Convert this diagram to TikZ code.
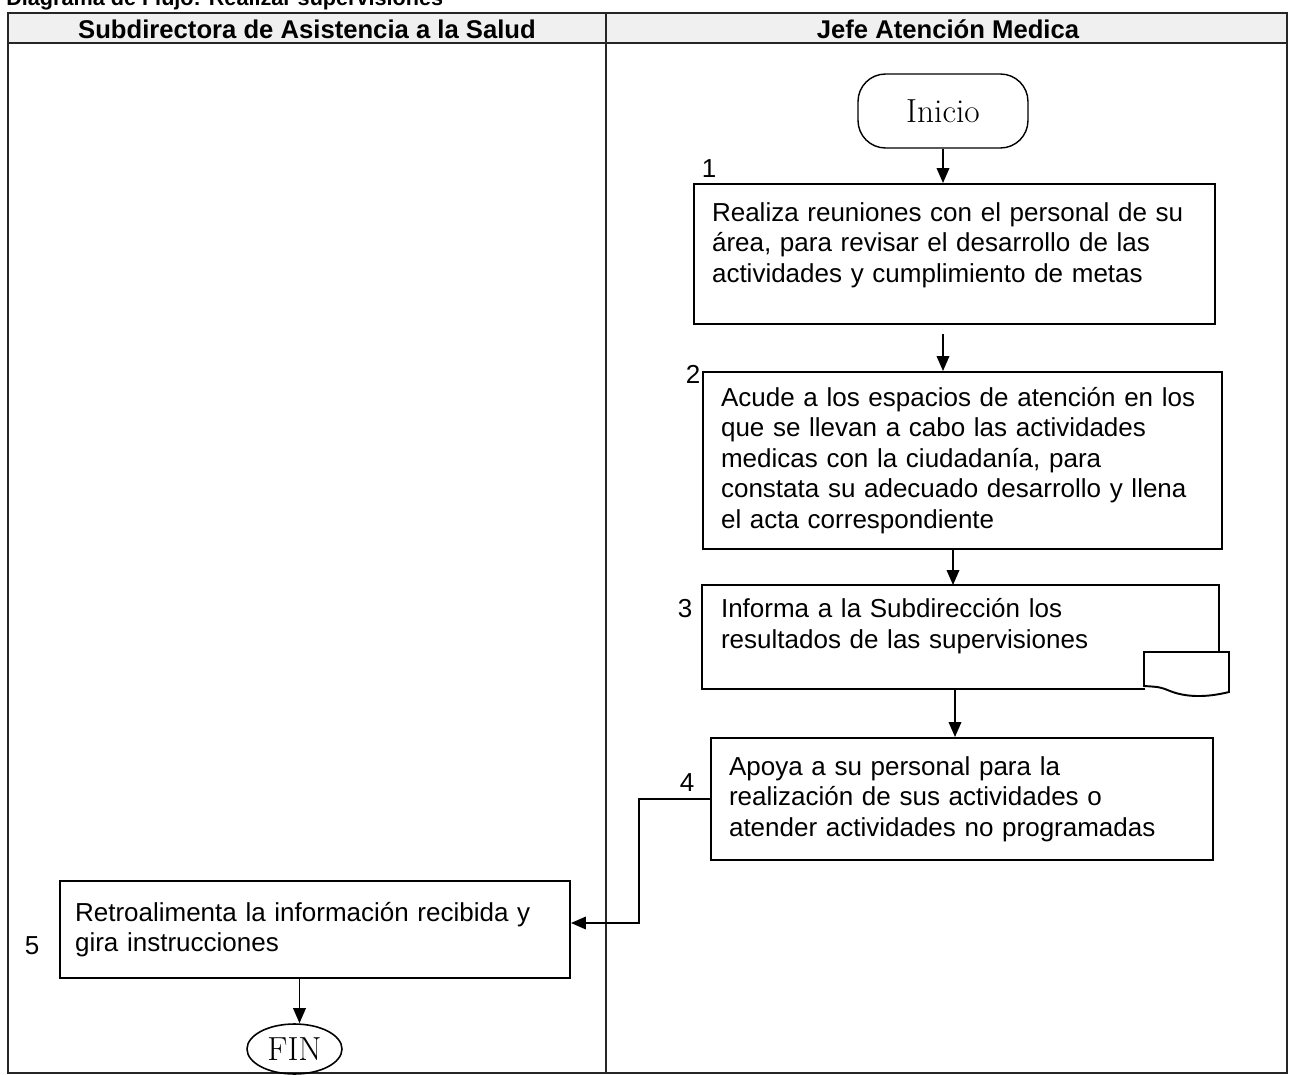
\documentclass[tikz,border=0pt]{standalone}
\usepackage{fontspec}
\newfontfamily\arial{Liberation Sans}
\usetikzlibrary{positioning, arrows.meta, shapes.geometric, calc}

\begin{document}
\begin{tikzpicture}[
    x=0.02cm, y=-0.02cm,
    every node/.style={font=\arial\fontsize{14.8}{17.35}\selectfont},
    stepbox/.style={draw, line width=1.1pt, align=left, inner xsep=0.36cm, inner ysep=0pt, text width=#1},
    terminal/.style={draw, line width=0.8pt, rounded corners=0.55cm, minimum width=3.4cm, minimum height=1.48cm, font=\fontsize{19}{22}\selectfont},
    endterm/.style={draw, ellipse, line width=0.9pt, inner sep=0pt, minimum width=1.9cm, minimum height=1cm, font=\fontsize{19}{22}\selectfont},
    stepnum/.style={inner sep=0pt},
    lanehead/.style={inner sep=0pt, font=\arial\bfseries\fontsize{14.6}{17}\selectfont},
    frame/.style={line width=0.8pt, draw=black!85},
    boxline/.style={line width=1.1pt},
    arrow/.style={-{Triangle[length=0.3cm, width=0.25cm]}, line width=1.1pt},
  ]
  \useasboundingbox (0,0) rectangle (1289,1075);

  % --- Title (cut at the top) ---
  \node[inner sep=0pt, anchor=base west, font=\arial\bfseries\fontsize{12.3}{14}\selectfont] (title) at (6,6) {Diagrama de Flujo: Realizar supervisiones};

  % --- Swimlanes ---
  \fill[gray!12] (8,13) rectangle (1287,43);
  \draw[frame] (8,13) rectangle (1287,1073);
  \draw[frame] (8,43) -- (1287,43);
  \draw[frame] (606,13) -- (606,1073);
  \node[lanehead] (laneA) at (307,29) {Subdirectora de Asistencia a la Salud};
  \node[lanehead] (laneB) at (948,29) {Jefe Atención Medica};

  % --- Jefe Atencion Medica ---
  \node[terminal] (inicio) at (943,111) {Inicio};
  \node[stepbox=9.70cm, minimum height=2.8cm, text depth=48pt] (box1) at (954.5,254) {Realiza reuniones con el personal de su\\área, para revisar el desarrollo de las\\actividades y cumplimiento de metas};
  \node[stepbox=9.66cm, minimum height=3.54cm] (box2) at (962.5,460.5) {Acude a los espacios de atención en los\\que se llevan a cabo las actividades\\medicas con la ciudadanía, para\\constata su adecuado desarrollo y llena\\el acta correspondiente};
  \node[stepbox=9.58cm, minimum height=2.04cm, draw=none, text depth=33pt] (box3) at (960.5,637) {Informa a la Subdirección los\\resultados de las supervisiones};
  \node[stepbox=9.32cm, minimum height=2.44cm] (box4) at (962,799) {Apoya a su personal para la\\realización de sus actividades o\\atender actividades no programadas};

  % --- Subdirectora ---
  \node[stepbox=9.6cm, minimum height=1.94cm, inner xsep=0.3cm] (box5) at (315,929.5) {Retroalimenta la información recibida y\\gira instrucciones};
  \node[endterm] (fin) at (294.5,1049) {FIN};

  % --- Box 3 outline with document mark ---
  \draw[boxline] ($(box3.north east)+(0,66)$) -- (box3.north east) -- (box3.north west) -- (box3.south west) -- ($(box3.south east)+(-74,0)$);
  \draw[boxline, fill=white] (1144,652) -- (1229,652) -- (1229,692) .. controls (1205,698) and (1185,697) .. (1170,691) .. controls (1160,687) .. (1144,686) -- cycle;

  % --- Step numbers ---
  \node[stepnum] (n1) at (709,169) {1};
  \node[stepnum] (n2) at (693,374) {2};
  \node[stepnum] (n3) at (685,609) {3};
  \node[stepnum] (n4) at (687,783) {4};
  \node[stepnum] (n5) at (32,946) {5};

  % --- Arrows ---
  \draw[arrow] (inicio.south) -- (inicio.south |- box1.north);
  \draw[arrow, shorten <=0.18cm] (inicio.south |- box1.south) -- (inicio.south |- box2.north);
  \draw[arrow] ([xshift=-0.15cm]box3.north |- box2.south) -- ([xshift=-0.15cm]box3.north);
  \draw[arrow] ([xshift=-0.14cm]box4.north |- box3.south) -- ([xshift=-0.14cm]box4.north);
  \draw[arrow] (box4.west) -- ++(-71,0) |- ([yshift=0.13cm]box5.east);
  \draw[arrow] ([xshift=0.1cm]fin.north |- box5.south) -- ([xshift=0.1cm]fin.north);

\end{tikzpicture}
\end{document}
